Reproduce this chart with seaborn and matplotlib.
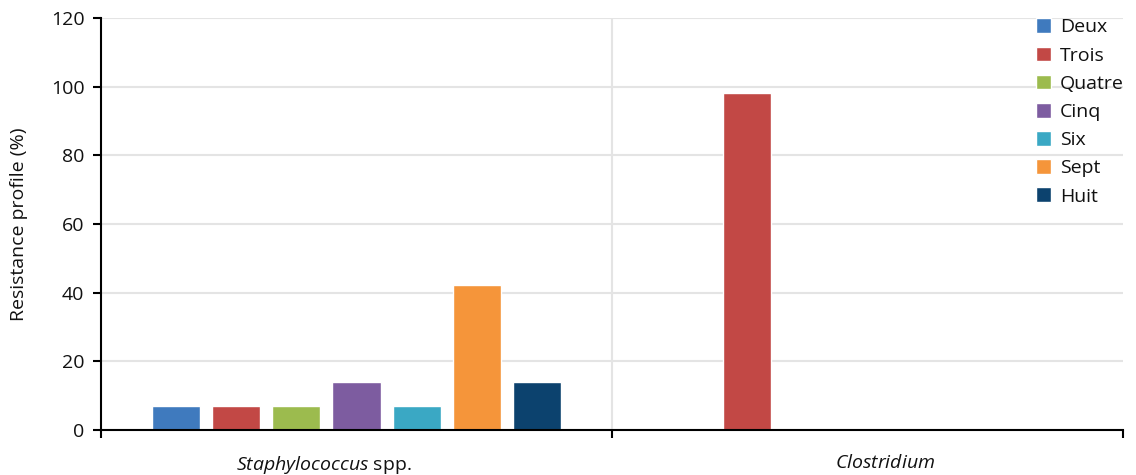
import numpy as np
import pandas as pd
import matplotlib
matplotlib.use("Agg")
import matplotlib.pyplot as plt
import matplotlib.transforms as mtransforms
import seaborn as sns

# Data
organisms = ["Staphylococcus spp.", "Clostridium"]
organism_labels = [r"$\mathit{Staphylococcus}$ spp.", r"$\mathit{Clostridium}$"]
classes = ["Deux", "Trois", "Quatre", "Cinq", "Six", "Sept", "Huit"]
staphylococcus = [7.1, 7.1, 7.1, 14.0, 7.1, 42.2, 14.0]
clostridium = [0, 98.1, 0, 0, 0, 0, 0]
y_ticks = [0, 20, 40, 60, 80, 100, 120]

palette = ["#3F7ABE", "#C24845", "#9CBB4E", "#7D5CA0", "#3AA8C4", "#F5953A", "#0C426E"]

df = pd.DataFrame({
    "organism": np.repeat(organisms, len(classes)),
    "class": classes * len(organisms),
    "value": staphylococcus + clostridium,
})

sns.set_theme(style="white")
plt.rcParams["font.family"] = ["Open Sans", "DejaVu Sans"]
plt.rcParams["mathtext.fontset"] = "custom"
plt.rcParams["mathtext.rm"] = "Open Sans"
plt.rcParams["mathtext.it"] = "Open Sans:italic"

TEXT = "#111111"
FS = 14

fig = plt.figure(figsize=(11.36, 4.75), dpi=100)
ax = fig.add_axes([101 / 1136, 45 / 475, 1022 / 1136, 412 / 475])

sns.barplot(
    data=df, x="organism", y="value", hue="class", hue_order=classes,
    order=organisms, palette=palette, saturation=1, width=0.822, gap=0.2,
    errorbar=None, ax=ax,
)

ax.set_xlim(-0.5, 1.5)
ax.set_ylim(0, 120)
ax.set_yticks(y_ticks)
ax.set_yticklabels([str(t) for t in y_ticks], fontsize=FS, color=TEXT)

# category boundaries carry the tick marks, names sit between them
ax.set_xticks([-0.5, 0.5, 1.5])
ax.set_xticklabels([])
ax.set_xticks([0, 1], minor=True)
ax.set_xticklabels(organism_labels, minor=True, fontsize=FS, color=TEXT)
ax.tick_params(axis="x", which="major", length=6, width=1.5, color="black", direction="out", bottom=True)
ax.tick_params(axis="x", which="minor", length=0, pad=17)
ax.tick_params(axis="y", length=6, width=1.5, color="black", direction="out", left=True, pad=6)

# nudge the category names sideways
for lbl, dx in zip(ax.get_xticklabels(minor=True), [-0.33, 0.18]):
    lbl.set_transform(lbl.get_transform() + mtransforms.ScaledTranslation(dx, 0, fig.dpi_scale_trans))

ax.set_xlabel("")
ax.set_ylabel("Resistance profile (%)", fontsize=FS, color=TEXT, labelpad=16)

ax.yaxis.grid(True, color="#E4E4E4", linewidth=1.5)
ax.axvline(0.5, color="#E4E4E4", linewidth=1.5, zorder=0)
ax.set_axisbelow(True)

for side in ["top", "right"]:
    ax.spines[side].set_visible(False)
for side in ["left", "bottom"]:
    ax.spines[side].set_color("black")
    ax.spines[side].set_linewidth(1.5)

sns.move_legend(
    ax, loc="upper left", bbox_to_anchor=(0.907, 1.018), frameon=False, title=None,
    fontsize=FS, handlelength=0.78, handleheight=0.78, handletextpad=0.46,
    labelspacing=0.52, borderaxespad=0,
)
for t in ax.get_legend().get_texts():
    t.set_color(TEXT)

fig.savefig("out.png", dpi=100)
